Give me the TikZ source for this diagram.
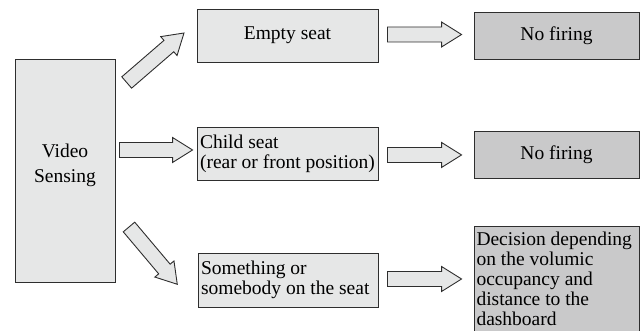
\documentclass[tikz,border=0pt]{standalone}
\usepackage{fontspec}
\setmainfont{Liberation Serif}
\usetikzlibrary{calc}
\definecolor{lightbox}{HTML}{E6E7E7}
\definecolor{darkbox}{HTML}{C9C9CA}
\definecolor{edge}{HTML}{2E2E2E}
\tikzset{
  lbox/.style={draw=edge, line width=0.9pt, fill=lightbox, inner sep=2.5pt, font=\fontsize{19.5}{20}\selectfont},
  dbox/.style={draw=edge, line width=0.9pt, fill=darkbox, inner sep=2.5pt, font=\fontsize{19.5}{20}\selectfont},
  blockarr/.style={draw=edge, line width=0.9pt, fill=lightbox, line join=miter}
}
\newcommand\blockarrow[2]{%
  \coordinate (bah) at ($(#2)!20pt!(#1)$);
  \draw[blockarr] ($(#1)!7.5pt!90:(#2)$) -- ($(bah)!7.5pt!-90:(#1)$) -- ($(bah)!12.5pt!-90:(#1)$) -- (#2)
    -- ($(bah)!12.5pt!90:(#1)$) -- ($(bah)!7.5pt!90:(#1)$) -- ($(#1)!7.5pt!-90:(#2)$) -- cycle;}
\begin{document}
\begin{tikzpicture}[x=1pt,y=-1pt]
\useasboundingbox (0,0) rectangle (641,331);
% boxes
\node[lbox, minimum width=100pt, minimum height=223pt] (vs) at (65,170.5) {};
\node[align=center, inner sep=0pt, font=\fontsize{19.5}{25}\selectfont] (vst) at (65,165) {Video\\Sensing};
\node[lbox, minimum width=181pt, minimum height=53pt] (es) at (287.5,35.5) {Empty seat};
\node[dbox, minimum width=165pt, minimum height=47pt] (nf1) at (556.5,35.5) {No firing};
\node[lbox, minimum width=181pt, minimum height=53pt, align=left] (cs) at (287.5,153.5)
  {Child seat\\(rear or front position)};
\node[dbox, minimum width=165pt, minimum height=47pt] (nf2) at (556.5,154.5) {No firing};
\node[lbox, minimum width=180pt, minimum height=54pt, text width=174pt, align=flush left] (so) at (288,280)
  {Something or\\somebody on the seat};
\node[dbox, minimum width=165pt, minimum height=106pt, text width=160pt, align=flush left] (de) at (556.5,279)
  {Decision depending\\on the volumic\\occupancy and\\distance to the\\dashboard};
% arrow end points
\coordinate (u0) at (126.7,82.5);
\coordinate (u1) at (184,33);
\coordinate (c0) at ($(vs.east |- 0,150)+(4,0)$);
\coordinate (c1) at ($(cs.west |- 0,150)+(-4,0)$);
\coordinate (d0) at (129,227);
\coordinate (d1) at (177.3,284.3);
\coordinate (a0) at ($(es.east |- 0,34.5)+(9,0)$);
\coordinate (a1) at ($(nf1.west |- 0,34.5)+(-12,0)$);
\coordinate (b0) at ($(cs.east |- 0,155)+(9,0)$);
\coordinate (b1) at ($(nf2.west |- 0,155)+(-12,0)$);
\coordinate (e0) at ($(so.east |- 0,279)+(9,0)$);
\coordinate (e1) at ($(de.west |- 0,279)+(-12,0)$);
% arrows
\blockarrow{u0}{u1}
\blockarrow{c0}{c1}
\blockarrow{d0}{d1}
\blockarrow{a0}{a1}
\blockarrow{b0}{b1}
\blockarrow{e0}{e1}
\end{tikzpicture}
\end{document}
